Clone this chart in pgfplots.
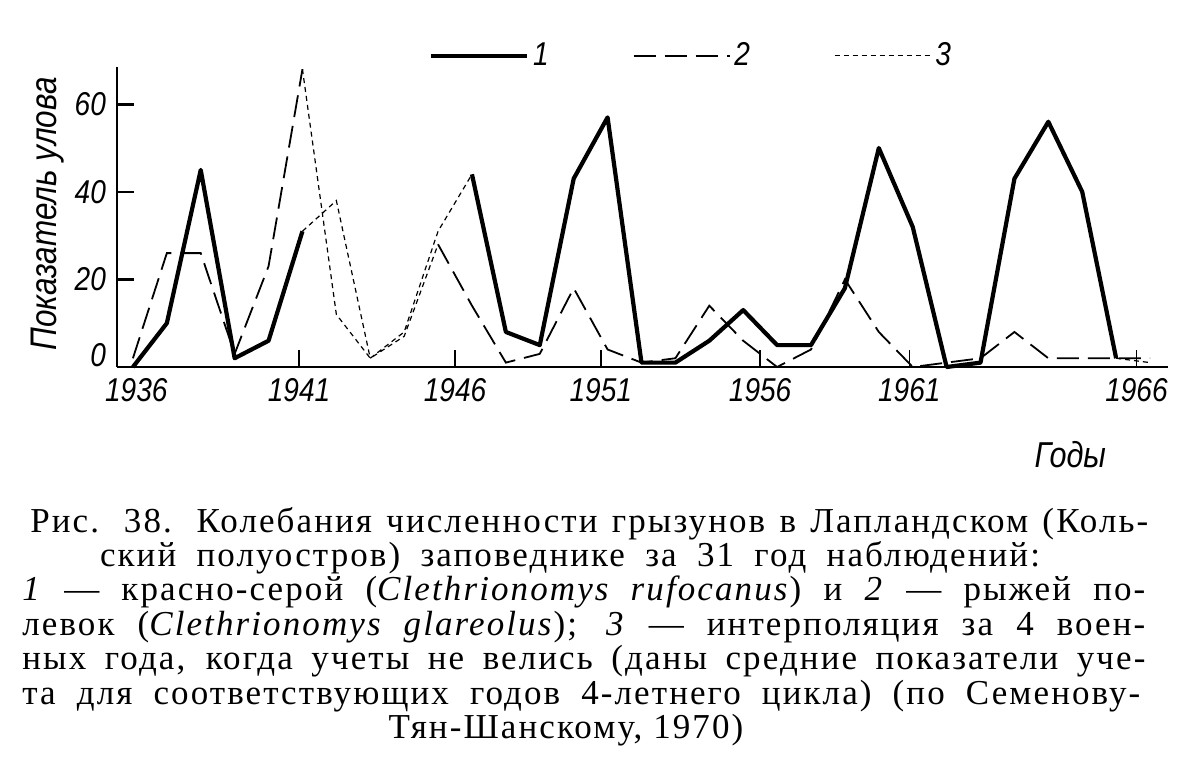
\documentclass[border=0pt]{standalone}
\usepackage{fontspec}
\setmainfont{Liberation Serif}
\newfontfamily\capfont[LetterSpace=6]{Liberation Serif}
\newfontfamily\handfont[FakeStretch=0.85]{Liberation Sans}
\usepackage{pgfplots}
\pgfplotsset{compat=1.18}

\newcommand{\hand}{\handfont\itshape\fontsize{16.5}{18}\selectfont}
\newcommand{\capsize}{\capfont\fontsize{17.5}{21}\selectfont}

% catch index (show 1: red-grey vole, solid)
\pgfplotstableread{
year val
1936 0
1937 10
1938 45
1939 2
1940 6
1941 31
1942 nan
1946 44
1947 8
1948 5
1949 43
1950 57
1951 1
1952 1
1953 6
1954 13
1955 5
1956 5
1957 18
1958 50
1959 32
1960 0
1961 1
1962 43
1963 56
1964 40
1965 2
}\rufocanus

% bank vole, dashed
\pgfplotstableread{
year val
1936 2
1937 26
1938 26
1939 3
1940 23
1941 68
1942 nan
1945 28
1946 14
1947 1
1948 3
1949 18
1950 4
1951 1
1952 2
1953 14
1954 6
1955 0
1956 4
1957 20
1958 8
1959 0
1960 1
1961 2
1962 8
1963 2
1964 2
1965 2
1966 2
}\glareolus

% interpolation for the war years (dotted)
\pgfplotstableread{
year val
1941 31
1942 38
1943 2
1944 8
1945 31
1946 44
1946 nan
1941 68
1942 12
1943 2
1944 7
1945 28
1945 nan
1965 2
1966 1
}\interp

\begin{document}
\begin{tikzpicture}
\useasboundingbox (0,0) rectangle (588.5pt,-390.5pt);
\begin{axis}[
  at={(58.5pt,-183.5pt)}, anchor=south west,
  scale only axis, width=525.5pt, height=150pt,
  xmin=1935.53, xmax=1966.53, ymin=0, ymax=68.5,
  axis lines=left, axis line style={-, line width=1.4pt},
  tick align=inside, major tick length=8.5pt,
  xtick={1940.9,1945.5,1949.8,1954.5,1958.9,1965.6},
  xticklabels={1941,1946,1951,1956,1961,1966},
  extra x ticks={1936.1}, extra x tick labels={1936},
  extra x tick style={major tick length=0pt},
  ytick={20,40,60}, yticklabels={20,40,60},
  extra y ticks={0}, extra y tick labels={0},
  extra y tick style={major tick length=0pt, yticklabel style={yshift=6pt}},
  xtick style={line width=0.8pt, black},
  ytick style={line width=1.3pt, black},
  ticklabel style={font=\hand},
  xticklabel style={yshift=-2pt},
  yticklabel style={xshift=-2pt},
  xlabel={Годы}, ylabel={Показатель улова},
  xlabel style={font=\handfont\itshape\fontsize{18}{20}\selectfont, at={(rel axis cs:0.907,-0.293)}, anchor=center},
  ylabel style={font=\handfont\itshape\fontsize{18.5}{20}\selectfont, at={(rel axis cs:-0.066,0.51)}, anchor=center},
  clip=false, unbounded coords=jump,
  legend columns=3,
  legend style={draw=none, fill=none, at={(rel axis cs:0.547,1.037)}, anchor=center, font=\hand,
    /tikz/every even column/.append style={column sep=40pt}},
  legend image code/.code={\draw[#1] (0pt,0pt) -- (48pt,0pt);},
]
\addplot[black, line width=2.1pt, line join=round] table[x=year, y=val] {\rufocanus};
\addlegendentry{1}
\addplot[black, line width=0.9pt, dash pattern=on 11pt off 4.5pt] table[x=year, y=val] {\glareolus};
\addlegendentry{2}
\addplot[black, line width=0.6pt, dash pattern=on 2.5pt off 2pt] table[x=year, y=val] {\interp};
\addlegendentry{3}
\end{axis}

\begin{scope}[every node/.style={inner sep=0pt, font=\capsize}]
\node[anchor=base west] at (15pt,-266pt) {\makebox[559pt][s]{Рис. 38. Колебания численности грызунов в Лапландском (Коль-}};
\node[anchor=base] at (285pt,-283.2pt) {\makebox[470pt][s]{ский полуостров) заповеднике за 31 год наблюдений:}};
\node[anchor=base west] at (11pt,-300.4pt) {\makebox[561.5pt][s]{\textit{1} — красно-серой (\textit{Clethrionomys rufocanus}) и \textit{2} — рыжей по-}};
\node[anchor=base west] at (11pt,-317.6pt) {\makebox[561.5pt][s]{левок (\textit{Clethrionomys glareolus}); \textit{3} — интерполяция за 4 воен-}};
\node[anchor=base west] at (11pt,-334.8pt) {\makebox[561.5pt][s]{ных года, когда учеты не велись (даны средние показатели уче-}};
\node[anchor=base west] at (11pt,-352pt) {\makebox[559pt][s]{та для соответствующих годов 4-летнего цикла) (по Семенову-}};
\node[anchor=base] at (283pt,-369.2pt) {Тян-Шанскому, 1970)};
\end{scope}
\end{tikzpicture}
\end{document}
